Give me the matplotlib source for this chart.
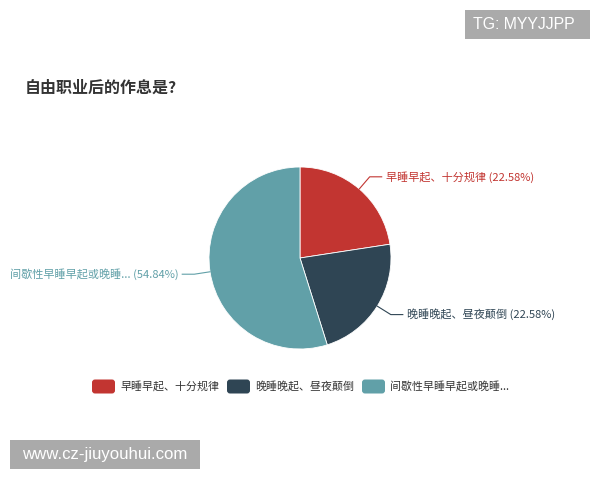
import numpy as np
import matplotlib
matplotlib.use('Agg')
import matplotlib.pyplot as plt
from matplotlib.patches import FancyBboxPatch, Rectangle

plt.rcParams['font.family'] = ['Noto Sans CJK SC', 'DejaVu Sans']

# data
title = '自由职业后的作息是?'
categories = ['早睡早起、十分规律', '晚睡晚起、昼夜颠倒', '间歇性早睡早起或晚睡...']
percent = [22.58, 22.58, 54.84]
colors = ['#c23531', '#2f4554', '#61a0a8']

W, H = 600, 480
fig = plt.figure(figsize=(6, 4.8), dpi=100)
ax = fig.add_axes([0, 0, 1, 1])

# pie in pixel coords (y up)
cx, cy, r = 300, H - 258, 91
wedges, _ = ax.pie(percent, colors=colors, startangle=90, counterclock=False,
                   center=(cx, cy), radius=r, frame=True,
                   wedgeprops=dict(edgecolor='white', linewidth=0.6))
ax.set_xlim(0, W)
ax.set_ylim(0, H)
ax.set_aspect('equal')
ax.axis('off')

# leader lines + labels
for w, name, p, c in zip(wedges, categories, percent, colors):
    mid = np.deg2rad((w.theta1 + w.theta2) / 2)
    x0, y0 = cx + r * np.cos(mid), cy + r * np.sin(mid)
    x1, y1 = cx + (r + 16) * np.cos(mid), cy + (r + 16) * np.sin(mid)
    side = 1 if np.cos(mid) >= 0 else -1
    x2 = x1 + side * 12
    ax.plot([x0, x1, x2], [y0, y1, y1], color=c, lw=0.8)
    ax.text(x2 + side * 4, y1, f'{name} ({p:.2f}%)', color=c, fontsize=8.0,
            ha='left' if side > 0 else 'right', va='center')

# title
ax.text(25, H - 88, title, fontsize=11.5, fontweight='bold', color='#333333',
        ha='left', va='center')

# legend
lx = [92, 227, 362]
ly = H - 386.5
for x, name, c in zip(lx, categories, colors):
    ax.add_patch(FancyBboxPatch((x + 3, ly - 4), 17, 8,
                                boxstyle='round,pad=3', fc=c, ec='none'))
    ax.text(x + 28, ly, name, fontsize=7.9, color='#333333', ha='left', va='center')

# watermarks
ax.add_patch(Rectangle((465, H - 39), 125, 29, fc='#aaaaaa', ec='none'))
ax.text(524, H - 24.5, 'TG: MYYJJPP', color='white', fontsize=11.4,
        family='Liberation Sans', ha='center', va='center')
ax.add_patch(Rectangle((10, H - 469), 190, 29, fc='#aaaaaa', ec='none'))
ax.text(105, H - 454.5, 'www.cz-jiuyouhui.com', color='white', fontsize=12.1,
        family='Liberation Sans', ha='center', va='center')

fig.savefig('out.png', dpi=100, facecolor='white')
